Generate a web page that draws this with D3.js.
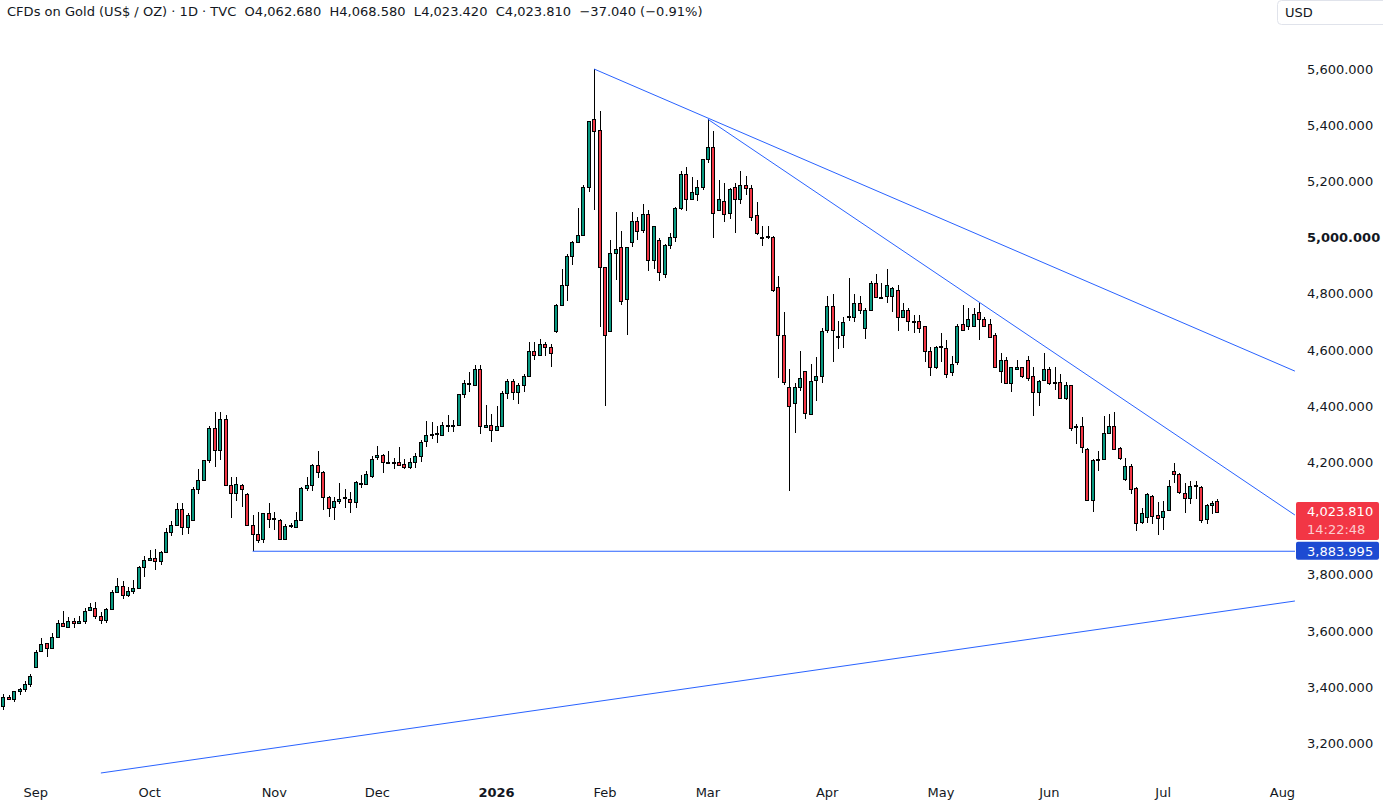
<!DOCTYPE html>
<html><head><meta charset="utf-8">
<script src="https://cdn.jsdelivr.net/npm/d3@7"></script>
<style>
body{margin:0;background:#fff;}
svg{display:block;font-family:"DejaVu Sans",sans-serif;}
</style>
</head><body>
<svg id="chart" width="1383" height="807"></svg>
<script>
// ---- DATA (daily candles, index 0 = first visible bar) ----
const opens = [
3322,3334,3366,3359,3388,3395,3413,3473,3530,3558,
3541,3580,3630,3615,3636,3630,3637,3676,3683,3655,
3640,3680,3739,3761,3729,3744,3754,3829,3854,3861,
3851,3883,3954,3979,4036,3972,3996,4107,4139,4207,
4324,4246,4353,4121,4093,4121,4089,3979,3947,3929,
4021,4001,3996,3929,3975,3972,3996,4110,4121,4192,
4167,4078,4043,4064,4075,4071,4061,4127,4125,4153,
4221,4228,4202,4201,4203,4196,4185,4203,4224,4278,
4296,4303,4299,4335,4328,4335,4442,4481,4477,4531,
4326,4335,4315,4329,4446,4491,4452,4477,4506,4595,
4584,4623,4612,4666,4762,4830,4933,4986,5011,5179,
5421,5382,4894,4666,4944,4965,4780,4983,5058,5026,
5083,4922,4993,4872,4972,5001,5107,5225,5139,5157,
5179,5278,5321,5100,5132,5086,5179,5136,5186,5175,
5079,5004,5004,5004,4826,4652,4467,4413,4467,4524,
4374,4495,4509,4673,4755,4648,4655,4719,4716,4766,
4680,4741,4837,4787,4791,4791,4812,4719,4744,4704,
4705,4684,4598,4541,4612,4609,4523,4559,4691,4684,
4684,4734,4709,4691,4652,4527,4563,4481,4534,4538,
4566,4506,4452,4495,4534,4484,4488,4431,4474,4328,
4328,4249,4068,4207,4214,4306,4328,4253,4142,4189,
4110,3989,4007,4082,4014,4007,4032,4171,4160,4093,
4075,4118,4114,4000,4050,4062.68];
const highs = [
3345,3375,3371,3388,3396,3421,3448,3533,3574,3558,
3593,3640,3670,3651,3645,3652,3681,3699,3702,3669,
3682,3746,3788,3777,3758,3780,3831,3868,3890,3893,
3886,3967,3993,4057,4055,4021,4114,4175,4210,4328,
4378,4378,4370,4150,4150,4123,4091,4014,4025,4021,
4057,4025,4000,3982,3986,4025,4112,4150,4194,4242,
4169,4080,4078,4128,4107,4096,4135,4157,4171,4224,
4260,4231,4239,4217,4256,4214,4217,4235,4281,4349,
4345,4331,4345,4370,4352,4445,4495,4523,4548,4548,
4404,4372,4400,4453,4498,4498,4481,4513,4627,4630,
4641,4627,4620,4764,4888,4940,4988,5107,5189,5416,
5600,5449,4896,4990,5090,5022,4967,5090,5075,5118,
5097,5043,4997,4976,5018,5109,5236,5250,5214,5204,
5280,5421,5378,5204,5193,5175,5196,5236,5221,5189,
5125,5040,5043,5006,4865,4734,4534,4481,4598,4526,
4552,4577,4680,4791,4798,4705,4716,4855,4798,4794,
4748,4844,4869,4837,4890,4826,4830,4766,4751,4726,
4726,4686,4612,4614,4662,4637,4580,4691,4762,4751,
4748,4769,4719,4709,4662,4588,4577,4541,4566,4541,
4580,4538,4493,4591,4541,4538,4513,4488,4476,4338,
4360,4253,4214,4242,4367,4374,4378,4255,4217,4196,
4112,4039,4093,4084,4061,4064,4139,4199,4162,4128,
4135,4135,4116,4052,4064,4068.58];
const lows = [
3315,3320,3355,3347,3374,3383,3401,3469,3526,3507,
3536,3575,3619,3615,3611,3630,3624,3671,3643,3625,
3629,3680,3735,3714,3721,3731,3752,3792,3852,3817,
3836,3881,3940,3977,3942,3947,3994,4089,4137,4199,
4184,4207,4119,4004,4064,4042,3977,3884,3915,3915,
3968,3961,3927,3927,3968,3970,3994,4100,4100,4146,
4032,4007,3996,4053,4039,4021,4039,4110,4123,4146,
4207,4164,4196,4175,4190,4175,4175,4182,4203,4256,
4285,4271,4297,4310,4310,4333,4431,4449,4475,4303,
4323,4273,4311,4327,4426,4423,4408,4449,4504,4566,
4582,4580,4538,4659,4758,4773,4901,4984,5009,5161,
5100,4682,4401,4664,4851,4762,4655,4965,4990,5018,
4880,4887,4844,4855,4961,4983,5100,5093,5136,5132,
5168,5264,4997,5093,5054,5065,5015,5118,5150,5058,
5011,4969,4994,4808,4502,4477,4100,4306,4456,4353,
4370,4417,4484,4662,4556,4602,4609,4702,4698,4730,
4641,4739,4785,4780,4769,4737,4669,4716,4666,4659,
4659,4556,4509,4531,4556,4502,4509,4548,4671,4673,
4682,4637,4685,4646,4536,4481,4479,4452,4532,4499,
4491,4367,4402,4491,4477,4459,4427,4424,4313,4267,
4235,4066,4025,4171,4212,4304,4247,4210,4135,4089,
3956,3982,3986,3982,3943,3961,4030,4128,4089,4021,
4053,4071,3986,3982,4018,4023.42];
const closes = [
3335,3365,3359,3387,3393,3412,3441,3526,3555,3541,
3580,3630,3619,3637,3630,3637,3672,3684,3653,3640,
3680,3740,3761,3729,3744,3754,3829,3854,3861,3851,
3883,3954,3979,4036,3972,4014,4107,4139,4207,4324,
4246,4353,4121,4093,4125,4107,3979,3947,3925,4021,
4000,4000,3929,3975,3976,3996,4110,4121,4192,4167,
4078,4039,4064,4071,4076,4061,4132,4128,4160,4214,
4228,4203,4202,4201,4192,4185,4203,4224,4274,4296,
4303,4304,4335,4328,4335,4442,4481,4482,4531,4328,
4332,4315,4329,4446,4491,4452,4474,4506,4595,4584,
4623,4612,4591,4762,4830,4936,4986,5008,5179,5414,
5378,4894,4655,4944,4961,4773,4965,5058,5022,5083,
4919,5040,4876,4972,5001,5107,5225,5139,5161,5179,
5278,5321,5086,5139,5083,5172,5136,5189,5175,5075,
5015,5003,5005,4815,4652,4488,4402,4467,4502,4377,
4491,4509,4669,4755,4673,4649,4698,4720,4766,4744,
4741,4837,4787,4788,4833,4819,4716,4741,4702,4705,
4680,4595,4541,4612,4613,4516,4552,4687,4673,4712,
4730,4712,4687,4648,4538,4563,4481,4538,4541,4506,
4502,4452,4491,4534,4481,4485,4431,4474,4324,4329,
4256,4068,4210,4214,4306,4328,4249,4217,4189,4107,
3986,4021,4086,4011,4004,4029,4118,4160,4096,4075,
4118,4119,3996,4050,4057,4023.81];

// month labels placed at the bar index of the first session of each month
const monthIndex  = [7, 28, 51, 70, 92, 112, 131, 153, 174, 194, 215, 237];
const monthLabels = ["Sep","Oct","Nov","Dec","2026","Feb","Mar","Apr","May","Jun","Jul","Aug"];
const priceTicks  = [3200,3400,3600,3800,4000,4200,4400,4600,4800,5000,5200,5400,5600];

// drawn trend lines: [startIndex, startPrice] -> [endIndex, endPrice]
const trendStartIdx   = [110, 131, 19];
const trendStartPrice = [5600, 5421, 3095];
const trendEndIdx     = [239.3, 239.3, 239.3];
const trendEndPrice   = [4525, 4013, 3707];
const levelPrice = 3883.995, levelStartIdx = 47;

const headerText = "CFDs on Gold (US$ / OZ) · 1D · TVC  O4,062.680  H4,068.580  L4,023.420  C4,023.810  −37.040 (−0.91%)";
const countdown = "14:22:48";

// ---- CHART ----
const W = 1383, H = 807;
const plotRight = 1295, plotBottom = 777;
const svg = d3.select("#chart");
const x = d3.scaleLinear().domain([0, 225]).range([-2.1, 1217.4]);
const y = d3.scaleLinear().domain([3200, 5600]).range([743.5, 69]);
const GREEN = "#089981", RED = "#F23645", BLUE = "#2962FF", TXT = "#131722";
const fmt = d3.format(",.3f");

svg.append("rect").attr("width", W).attr("height", H).attr("fill", "#fff");
svg.append("clipPath").attr("id", "plotclip").append("rect")
  .attr("x", 0).attr("y", 0).attr("width", plotRight).attr("height", plotBottom);

const plot = svg.append("g").attr("clip-path", "url(#plotclip)");

const bars = d3.range(opens.length).map(i => ({i, o: opens[i], h: highs[i], l: lows[i], c: closes[i]}));

const cg = plot.append("g").attr("shape-rendering", "crispEdges");
cg.selectAll("line.wick").data(bars).join("line").attr("class", "wick")
  .attr("x1", d => Math.round(x(d.i)) + 0.5).attr("x2", d => Math.round(x(d.i)) + 0.5)
  .attr("y1", d => Math.round(y(d.h))).attr("y2", d => Math.round(y(d.l)))
  .attr("stroke", "#000").attr("stroke-width", 1);
cg.selectAll("rect.body").data(bars).join("rect").attr("class", "body")
  .attr("x", d => Math.round(x(d.i)) - 1.5)
  .attr("width", 3)
  .attr("y", d => Math.round(y(Math.max(d.o, d.c))) + 0.5)
  .attr("height", d => Math.max(1, Math.round(y(Math.min(d.o, d.c))) - Math.round(y(Math.max(d.o, d.c)))))
  .attr("fill", d => d.c >= d.o ? GREEN : RED)
  .attr("stroke", "#000").attr("stroke-width", 1);

// trend lines
const tl = plot.append("g");
trendStartIdx.forEach((s, k) => {
  tl.append("line")
    .attr("x1", x(s)).attr("y1", y(trendStartPrice[k]))
    .attr("x2", x(trendEndIdx[k])).attr("y2", y(trendEndPrice[k]))
    .attr("stroke", BLUE).attr("stroke-width", 1);
});
tl.append("line")
  .attr("x1", x(levelStartIdx)).attr("x2", plotRight)
  .attr("y1", y(levelPrice)).attr("y2", y(levelPrice))
  .attr("stroke", BLUE).attr("stroke-width", 1.2);

// price label boxes on the axis (they hide the tick labels they cover)
const last = closes[closes.length - 1];
const ly = y(last), vy = y(levelPrice);
const boxTop = ly - 10, boxBottom = vy + 8.5;

// price axis
const ax = svg.append("g");
ax.selectAll("text").data(priceTicks.filter(v => y(v) < boxTop - 7 || y(v) > boxBottom + 7)).join("text")
  .attr("x", 1307).attr("y", d => y(d) + 4.5)
  .attr("font-size", 13).attr("fill", TXT)
  .attr("font-weight", d => d === 5000 ? "bold" : "normal")
  .text(d => fmt(d));

// time axis
const tx = svg.append("g");
tx.selectAll("text").data(monthIndex).join("text")
  .attr("x", d => x(d)).attr("y", 797)
  .attr("text-anchor", "middle").attr("font-size", 13).attr("fill", TXT)
  .attr("font-weight", (d, k) => monthLabels[k] === "2026" ? "bold" : "normal")
  .text((d, k) => monthLabels[k]);

// last price label
svg.append("rect").attr("x", 1296).attr("y", ly - 10).attr("width", 83).attr("height", 38)
  .attr("rx", 2).attr("fill", RED);
svg.append("text").attr("x", 1307).attr("y", ly + 4).attr("font-size", 13)
  .attr("fill", "#fff").text(fmt(last));
svg.append("text").attr("x", 1307).attr("y", ly + 22.5).attr("font-size", 13)
  .attr("fill", "#fff").attr("fill-opacity", 0.75).text(countdown);

// level label
svg.append("rect").attr("x", 1296).attr("y", vy - 9.5).attr("width", 83).attr("height", 18)
  .attr("rx", 2).attr("fill", "#1E4BD2");
svg.append("text").attr("x", 1307).attr("y", vy + 4.5).attr("font-size", 13)
  .attr("fill", "#fff").text(fmt(levelPrice));

// header (fitted to the reference's span)
const ht = svg.append("text").attr("x", 7).attr("y", 16).attr("font-size", 13).attr("fill", TXT)
  .attr("xml:space", "preserve").style("white-space", "pre").text(headerText);
const hw = ht.node().getComputedTextLength();
if (hw > 0) ht.attr("font-size", (13 * 696 / hw).toFixed(2));

// currency box
svg.append("rect").attr("x", 1277.5).attr("y", 0.5).attr("width", 110).attr("height", 24)
  .attr("rx", 4).attr("fill", "#fff").attr("stroke", "#E0E3EB");
svg.append("text").attr("x", 1285).attr("y", 17).attr("font-size", 13).attr("fill", TXT).text("USD");
</script>
</body></html>
